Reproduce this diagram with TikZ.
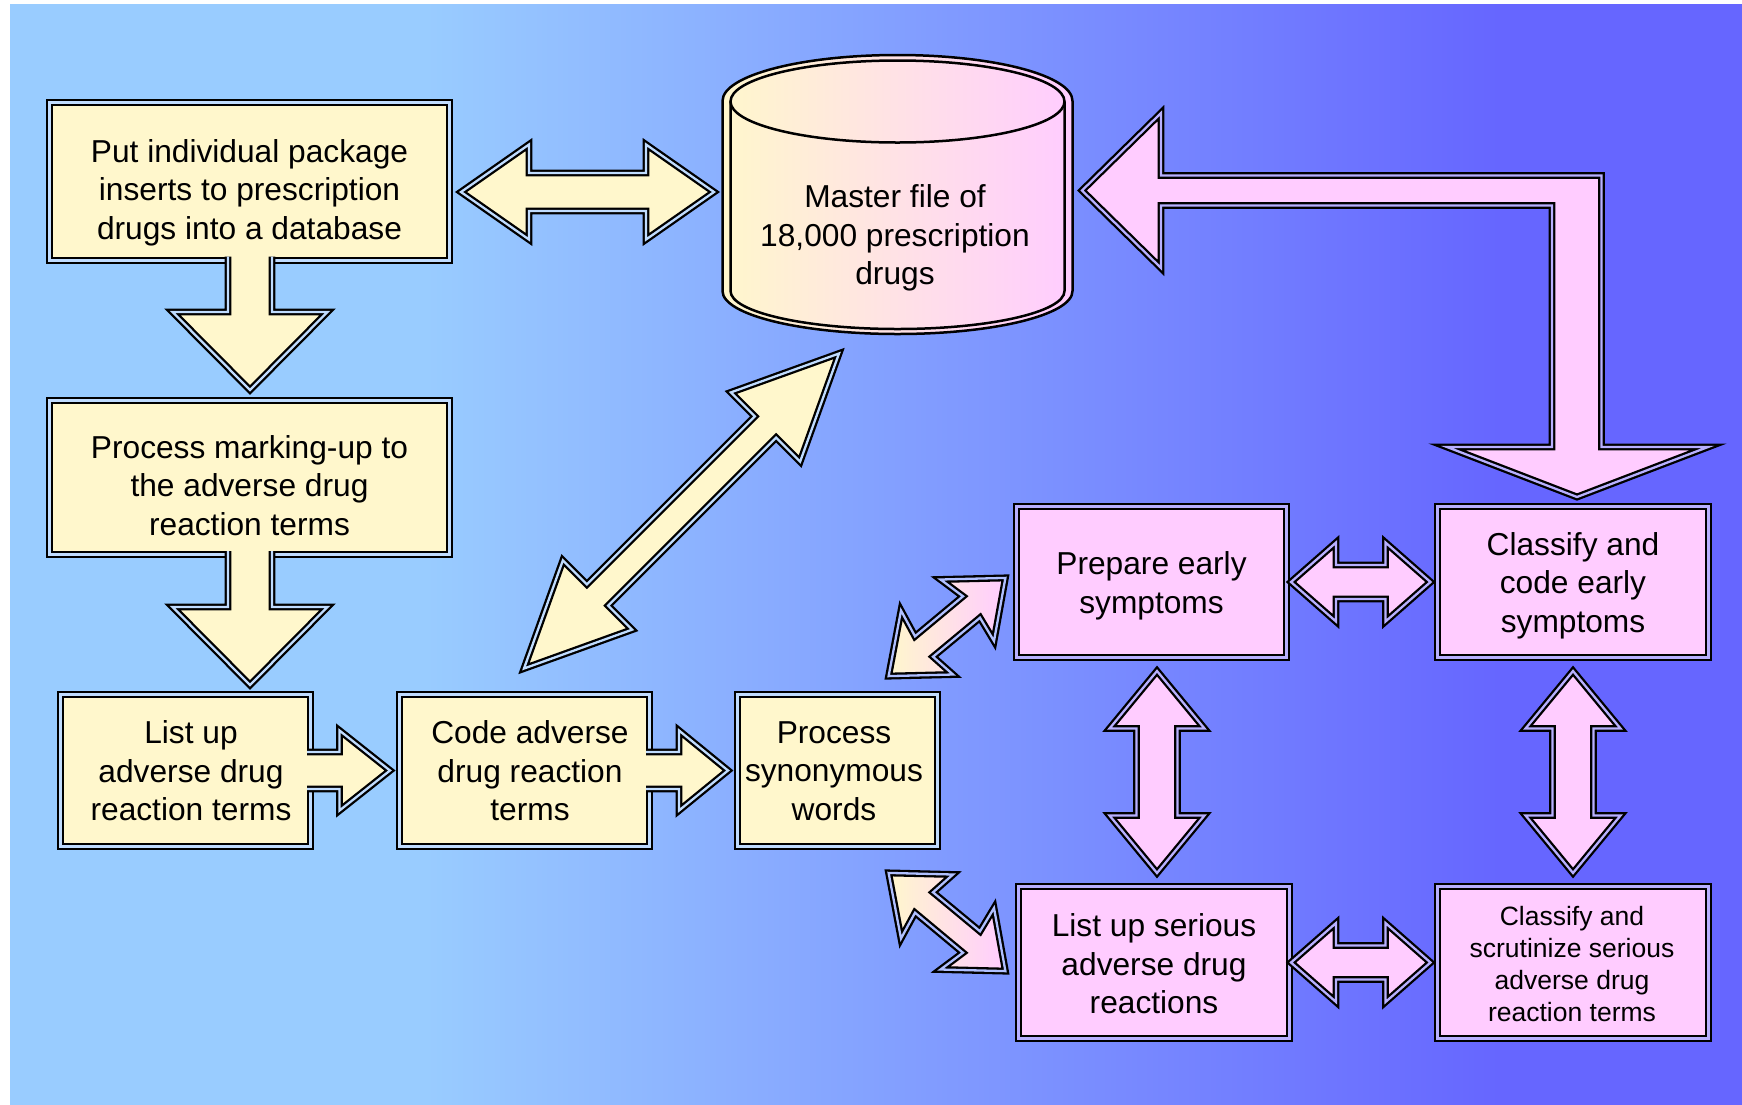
\documentclass[tikz,border=0pt]{standalone}
\usepackage{fontspec}
\setmainfont{Liberation Sans}
\usetikzlibrary{calc}
\definecolor{cream}{HTML}{FFF7CC}
\definecolor{pinkc}{HTML}{FFCCFF}
\definecolor{bgL}{HTML}{99CCFF}
\definecolor{bgR}{HTML}{6666FF}
\definecolor{dblY}{HTML}{C0DCFF}
\definecolor{dblP}{HTML}{B8B0FF}
\definecolor{dblG}{HTML}{B0C0FF}
\pgfdeclarehorizontalshading{bgshade}{100bp}{color(0bp)=(bgL); color(37bp)=(bgL); color(68bp)=(bgR); color(100bp)=(bgR)}

% single-headed block arrow: #1 start, #2 tip, #3 shaft half width, #4 head half width, #5 head length, #6 style
\newcommand\arrowone[6]{%
  \path (#1); \pgfgetlastxy{\arAx}{\arAy}%
  \path (#2); \pgfgetlastxy{\arBx}{\arBy}%
  \pgfmathsetmacro\arAng{atan2((\arBy)-(\arAy),(\arBx)-(\arAx))}%
  \pgfmathsetmacro\arLen{veclen((\arBx)-(\arAx),(\arBy)-(\arAy))}%
  \pgfmathsetmacro\arBack{\arLen-#5}%
  \begin{scope}[shift={(\arAx,\arAy)},rotate=\arAng]
    \fill[#6,draw=none] (0pt,#3pt) -- (\arBack pt,#3pt) -- (\arBack pt,#4pt) -- (\arLen pt,0pt) -- (\arBack pt,-#4pt) -- (\arBack pt,-#3pt) -- (0pt,-#3pt) -- cycle;
    \draw[#6,fill=none] (0pt,#3pt) -- (\arBack pt,#3pt) -- (\arBack pt,#4pt) -- (\arLen pt,0pt) -- (\arBack pt,-#4pt) -- (\arBack pt,-#3pt) -- (0pt,-#3pt);
  \end{scope}}
% double-headed block arrow
\newcommand\arrowtwo[6]{%
  \path (#1); \pgfgetlastxy{\arAx}{\arAy}%
  \path (#2); \pgfgetlastxy{\arBx}{\arBy}%
  \pgfmathsetmacro\arAng{atan2((\arBy)-(\arAy),(\arBx)-(\arAx))}%
  \pgfmathsetmacro\arLen{veclen((\arBx)-(\arAx),(\arBy)-(\arAy))}%
  \pgfmathsetmacro\arBack{\arLen-#5}%
  \begin{scope}[shift={(\arAx,\arAy)},rotate=\arAng]
    \draw[#6] (0pt,0pt) -- (#5pt,#4pt) -- (#5pt,#3pt) -- (\arBack pt,#3pt) -- (\arBack pt,#4pt) -- (\arLen pt,0pt) -- (\arBack pt,-#4pt) -- (\arBack pt,-#3pt) -- (#5pt,-#3pt) -- (#5pt,-#4pt) -- cycle;
  \end{scope}}

\tikzset{
  dbl/.style={draw=black, line width=2.3pt, double distance=2.3pt, miter limit=6},
  ybox/.style={rectangle, dbl, double=dblY, fill=cream, inner sep=0pt, outer sep=0pt},
  pbox/.style={rectangle, dbl, double=dblP, fill=pinkc, inner sep=0pt, outer sep=0pt},
  yarrow/.style={dbl, double=dblY, fill=cream},
  parrow/.style={dbl, double=dblP, fill=pinkc},
  garrow/.style={dbl, double=dblG, left color=cream, right color=pinkc},
  txt/.style={align=center, font=\fontsize{31.7}{38.5}\selectfont, inner sep=0pt},
  smalltxt/.style={align=center, font=\fontsize{26.5}{31.9}\selectfont, inner sep=0pt},
}

\begin{document}
\begin{tikzpicture}[x=1pt,y=-1pt]
\useasboundingbox (0,0) rectangle (1742,1104);
\fill[white] (0,0) rectangle (1742,1104);
\shade[shading=bgshade] (10,4) rectangle (1742,1104);

% boxes
\node[ybox, minimum width=400, minimum height=158] (box1) at (249.5,181.5) {};
\node[ybox, minimum width=400, minimum height=154] (box2) at (249.5,477.5) {};
\node[ybox, minimum width=250, minimum height=152] (box3) at (185.5,770.5) {};
\node[ybox, minimum width=250, minimum height=152] (box4) at (524.5,770.5) {};
\node[ybox, minimum width=200, minimum height=152] (box5) at (837.5,770.5) {};
\node[pbox, minimum width=270, minimum height=151] (prep) at (1151.5,582) {};
\node[pbox, minimum width=271, minimum height=151] (code) at (1573,582) {};
\node[pbox, minimum width=271, minimum height=152] (list) at (1154,962.5) {};
\node[pbox, minimum width=271, minimum height=152] (scrut) at (1573,962.5) {};

% cylinder
\node[inner sep=0pt, outer sep=0pt, minimum width=350, minimum height=281] (cyl) at (897.5,194.5) {};
\shadedraw[left color=cream, right color=pinkc, draw=black, line width=2.5pt]
  (722.5,101) arc[start angle=180, end angle=0, x radius=175pt, y radius=46pt]
  -- (1072.5,291) arc[start angle=0, end angle=-180, x radius=175pt, y radius=43pt] -- cycle;
\draw[line width=2.5pt] (897.5,101.5) ellipse[x radius=167pt, y radius=41pt];
\draw[line width=2.5pt] (730.5,101.5) -- (730.5,291)
  arc[start angle=180, end angle=360, x radius=167pt, y radius=38pt] -- (1064.5,101.5);

% connector end points
\coordinate (a1s) at ($(box1.east)+(11.5,10.5)$);
\coordinate (a1e) at ($(cyl.west)+(-8.5,-2.5)$);
\coordinate (a2s) at ($(box1.south)+(0.5,-4)$);
\coordinate (a2e) at ($(box2.north)+(0.5,-10.5)$);
\coordinate (a3s) at ($(box2.south)+(0.5,-3.5)$);
\coordinate (a3e) at ($(box3.north)+(64.5,-9.5)$);
\coordinate (a4s) at ($(box3.east)+(-3.5,0)$);
\coordinate (a4e) at ($(box4.west)+(-9.5,0)$);
\coordinate (a5s) at ($(box4.east)+(-3.5,0)$);
\coordinate (a5e) at ($(box5.west)+(-9.5,0)$);
\coordinate (a6s) at ($(box4.north)+(-0.5,-26)$);
\coordinate (a6e) at ($(cyl.south)+(-58.5,18.5)$);
\coordinate (p1s) at ($(prep.east)+(4.5,0)$);
\coordinate (p1e) at ($(code.west)+(-7,0)$);
\coordinate (p2s) at ($(list.east)+(1.5,0)$);
\coordinate (p2e) at ($(scrut.west)+(-7,0)$);
\coordinate (p3s) at ($(prep.south)+(5.5,13.5)$);
\coordinate (p3e) at ($(list.north)+(3,-13.5)$);
\coordinate (p4s) at ($(code.south)+(0,13.5)$);
\coordinate (p4e) at ($(scrut.north)+(0,-13.5)$);
\coordinate (ltip) at ($(cyl.east)+(9.5,-4)$);
\coordinate (btip) at ($(code.north)+(4,-9.5)$);
\coordinate (g1a) at ($(prep.west)+(-11.1,-4.1)$);
\coordinate (g1b) at ($(box5.north east)+(-48.9,-18.4)$);
\coordinate (g2a) at ($(list.west)+(-13.1,8.6)$);
\coordinate (g2b) at ($(box5.south east)+(-48.9,26.4)$);

% yellow block arrows
\arrowtwo{a1s}{a1e}{19}{47.5}{68}{yarrow}
\arrowone{a2s}{a2e}{22}{77.5}{78}{yarrow}
\arrowone{a3s}{a3e}{22}{77.5}{78}{yarrow}
\arrowone{a4s}{a4e}{18.5}{40}{50.5}{yarrow}
\arrowone{a5s}{a5e}{18.5}{40}{49}{yarrow}
\arrowtwo{a6s}{a6e}{15}{49}{104}{yarrow}

% pink block arrows
\arrowtwo{p1s}{p1e}{17}{39.5}{45}{parrow}
\arrowtwo{p2s}{p2e}{17}{39.5}{45}{parrow}
\arrowtwo{p3s}{p3e}{20.5}{47.5}{57.5}{parrow}
\arrowtwo{p4s}{p4e}{20.5}{47.5}{57.5}{parrow}

% bent arrow from classify box to master file
\draw[parrow] (ltip) -- (1161,113) -- (1161,175.5) -- (1601.5,175.5) -- (1601.5,447) -- (1708,447)
  -- (btip) -- (1447,447) -- (1552,447) -- (1552,205.5) -- (1161,205.5) -- (1161,268) -- cycle;

% gradient arrows from synonymous words
\shadedraw[garrow] (g1a) -- (994,641) -- (980,617.7) -- (933,656.7) -- (953,674.5) -- (g1b)
  -- (901,610.5) -- (915,636.3) -- (963,596.3) -- (940.5,579.5) -- cycle;
\shadedraw[garrow] (g2a) -- (994,908) -- (980,931.3) -- (933,892.3) -- (953,874.5) -- (g2b)
  -- (901,938.5) -- (915,912.7) -- (963,952.7) -- (940.5,969.5) -- cycle;

% texts
\node[txt] (t1) at (249.5,192.5) {Put individual package\\inserts to prescription\\drugs into a database};
\node[txt] (t2) at (249.5,485.5) {Process marking-up to\\the adverse drug\\reaction terms};
\node[txt] (t3) at (191,771) {List up\\adverse drug\\reaction terms};
\node[txt] (t4) at (530,771) {Code adverse\\drug reaction\\terms};
\node[txt] (t5) at (834,771) {Process\\synonymous\\words};
\node[txt] (tc) at (895,238) {Master file of\\18,000 prescription\\drugs};
\node[txt] (t6) at (1151.5,586) {Prepare early\\symptoms};
\node[txt] (t7) at (1573,585.5) {Classify and\\code early\\symptoms};
\node[txt] (t8) at (1154,964) {List up serious\\adverse drug\\reactions};
\node[smalltxt] (t9) at (1572,964) {Classify and\\scrutinize serious\\adverse drug\\reaction terms};
\end{tikzpicture}
\end{document}
